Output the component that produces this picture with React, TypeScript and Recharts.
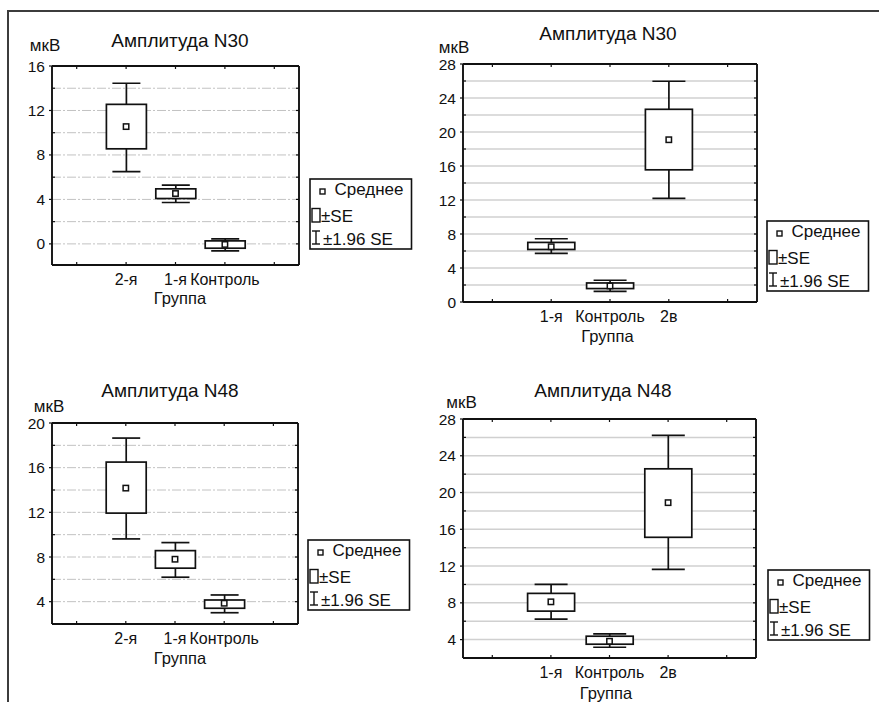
import React from 'react';
import { ComposedChart, Bar, Scatter, XAxis, YAxis, CartesianGrid } from 'recharts';

const FONT = '"Liberation Sans", Arial, Helvetica, sans-serif';
const INK = '#111111';

// ---------------- data ----------------
const yUnit = 'мкВ';
const xTitle = 'Группа';
const legendMean = 'Среднее';
const legendSE = '±SE';
const legendCI = '±1.96 SE';

// Panel 1: Амплитуда N30 (top-left)
const p1Title = 'Амплитуда N30';
const p1Categories = ['', '2-я', '1-я', 'Контроль', ''];
const p1Mean = [null, 10.55, 4.53, -0.05, null];
const p1SeLow = [null, 8.55, 4.08, -0.39, null];
const p1SeHigh = [null, 12.55, 4.95, 0.27, null];
const p1CiLow = [null, 6.5, 3.72, -0.63, null];
const p1CiHigh = [null, 14.45, 5.28, 0.45, null];
const p1Domain: [number, number] = [-1.9, 16];
const p1Ticks = [0, 2, 4, 6, 8, 10, 12, 14, 16];

// Panel 2: Амплитуда N30 (top-right)
const p2Title = 'Амплитуда N30';
const p2Categories = ['', '1-я', 'Контроль', '2в', ''];
const p2Mean = [null, 6.5, 1.89, 19.09, null];
const p2SeLow = [null, 6.18, 1.58, 15.55, null];
const p2SeHigh = [null, 7.01, 2.24, 22.67, null];
const p2CiLow = [null, 5.71, 1.26, 12.2, null];
const p2CiHigh = [null, 7.44, 2.56, 25.97, null];
const p2Domain: [number, number] = [0, 28];
const p2Ticks = [0, 2, 4, 6, 8, 10, 12, 14, 16, 18, 20, 22, 24, 26, 28];

// Panel 3: Амплитуда N48 (bottom-left)
const p3Title = 'Амплитуда N48';
const p3Categories = ['', '2-я', '1-я', 'Контроль', ''];
const p3Mean = [null, 14.17, 7.8, 3.86, null];
const p3SeLow = [null, 11.93, 7.0, 3.41, null];
const p3SeHigh = [null, 16.5, 8.57, 4.15, null];
const p3CiLow = [null, 9.62, 6.19, 3.01, null];
const p3CiHigh = [null, 18.65, 9.29, 4.6, null];
const p3Domain: [number, number] = [2, 20];
const p3Ticks = [4, 6, 8, 10, 12, 14, 16, 18, 20];

// Panel 4: Амплитуда N48 (bottom-right)
const p4Title = 'Амплитуда N48';
const p4Categories = ['', '1-я', 'Контроль', '2в', ''];
const p4Mean = [null, 8.11, 3.82, 18.9, null];
const p4SeLow = [null, 7.1, 3.5, 15.13, null];
const p4SeHigh = [null, 9.03, 4.37, 22.58, null];
const p4CiLow = [null, 6.22, 3.17, 11.64, null];
const p4CiHigh = [null, 10.0, 4.62, 26.21, null];
const p4Domain: [number, number] = [2, 28];
const p4Ticks = [4, 6, 8, 10, 12, 14, 16, 18, 20, 22, 24, 26, 28];

// ---------------- helpers ----------------
type Row = {
  slot: number;
  has: boolean;
  mean: number | null;
  base: number;
  lowW: number;
  box: number;
  highW: number;
};

function buildRows(
  cats: string[],
  mean: (number | null)[],
  seLow: (number | null)[],
  seHigh: (number | null)[],
  ciLow: (number | null)[],
  ciHigh: (number | null)[]
): Row[] {
  return cats.map((_, i) => {
    const has = mean[i] != null;
    return {
      slot: i,
      has,
      mean: has ? (mean[i] as number) : null,
      base: has ? (ciLow[i] as number) : 0,
      lowW: has ? (seLow[i] as number) - (ciLow[i] as number) : 0,
      box: has ? (seHigh[i] as number) - (seLow[i] as number) : 0,
      highW: has ? (ciHigh[i] as number) - (seHigh[i] as number) : 0,
    };
  });
}

const LW = 1.7;

const makeLowWhisker = (capW: number) => (p: any) => {
  if (!p || !p.payload || !p.payload.has) return <g />;
  const cx = p.x + p.width / 2;
  const top = p.y;
  const bottom = p.y + p.height;
  return (
    <g>
      <line x1={cx} x2={cx} y1={top} y2={bottom} stroke={INK} strokeWidth={LW} />
      <line x1={cx - capW / 2} x2={cx + capW / 2} y1={bottom} y2={bottom} stroke={INK} strokeWidth={LW} />
    </g>
  );
};

const makeHighWhisker = (capW: number) => (p: any) => {
  if (!p || !p.payload || !p.payload.has) return <g />;
  const cx = p.x + p.width / 2;
  const top = p.y;
  const bottom = p.y + p.height;
  return (
    <g>
      <line x1={cx} x2={cx} y1={top} y2={bottom} stroke={INK} strokeWidth={LW} />
      <line x1={cx - capW / 2} x2={cx + capW / 2} y1={top} y2={top} stroke={INK} strokeWidth={LW} />
    </g>
  );
};

const BoxShape = (p: any) => {
  if (!p || !p.payload || !p.payload.has) return <g />;
  return <rect x={p.x} y={p.y} width={p.width} height={p.height} fill="#ffffff" stroke={INK} strokeWidth={LW} />;
};

const NoShape = () => <g />;

const MeanShape = (p: any) => {
  if (!p || !p.payload || !p.payload.has || !Number.isFinite(p.cx) || !Number.isFinite(p.cy)) return <g />;
  return <rect x={p.cx - 2.7} y={p.cy - 2.7} width={5.4} height={5.4} fill="#ffffff" stroke={INK} strokeWidth={1.5} />;
};

const LeftTick = (p: any) => {
  const { x, y, payload } = p;
  const v = payload.value;
  const major = v % 4 === 0;
  return (
    <g>
      {major ? (
        <line x1={x - 3} x2={x} y1={y} y2={y} stroke={INK} strokeWidth={1.2} />
      ) : (
        <line x1={x} x2={x + 3} y1={y} y2={y} stroke={INK} strokeWidth={1.2} />
      )}
      {major && (
        <text x={x - 7} y={y + 5.5} textAnchor="end" fontSize={15.5} fontFamily={FONT} fill={INK}>
          {v}
        </text>
      )}
    </g>
  );
};

const RightTick = (p: any) => {
  const { x, y } = p;
  return <line x1={x - 3} x2={x} y1={y} y2={y} stroke={INK} strokeWidth={1.2} />;
};

const TopTick = (p: any) => {
  const { x, y } = p;
  return <line x1={x} x2={x} y1={y} y2={y + 3} stroke={INK} strokeWidth={1.2} />;
};

const makeBottomTick = (cats: string[]) => (p: any) => {
  const { x, y, payload } = p;
  const label = cats[payload.value] ?? '';
  return (
    <g>
      <line x1={x} x2={x} y1={y} y2={y - 3} stroke={INK} strokeWidth={1.2} />
      {label && (
        <text x={x} y={y + 20} textAnchor="middle" fontSize={16} fontFamily={FONT} fill={INK}>
          {label}
        </text>
      )}
    </g>
  );
};

const CText = ({ x, y, size, children }: { x: number; y: number; size: number; children: React.ReactNode }) => (
  <div
    style={{
      position: 'absolute',
      left: x,
      top: y,
      transform: 'translate(-50%, -50%)',
      fontSize: size,
      lineHeight: 1,
      whiteSpace: 'nowrap',
      color: INK,
      fontFamily: FONT,
    }}
  >
    {children}
  </div>
);

const LegendBox = ({ x, y }: { x: number; y: number }) => (
  <svg style={{ position: 'absolute', left: x, top: y }} width={104} height={73}>
    <rect x={1} y={1} width={101.5} height={70} fill="#ffffff" stroke={INK} strokeWidth={1.6} />
    <rect x={11} y={11} width={5} height={5} fill="#ffffff" stroke={INK} strokeWidth={1.4} />
    <text x={25.5} y={17} fontSize={17} fontFamily={FONT} fill={INK}>
      {legendMean}
    </text>
    <rect x={3} y={30.5} width={8} height={13.5} fill="none" stroke={INK} strokeWidth={1.4} />
    <text x={12} y={44} fontSize={17} fontFamily={FONT} fill={INK}>
      {legendSE}
    </text>
    <line x1={7} x2={7} y1={53} y2={66} stroke={INK} strokeWidth={1.4} />
    <line x1={3} x2={11} y1={53} y2={53} stroke={INK} strokeWidth={1.4} />
    <line x1={3} x2={11} y1={66} y2={66} stroke={INK} strokeWidth={1.4} />
    <text x={14} y={66.5} fontSize={17} fontFamily={FONT} fill={INK}>
      {legendCI}
    </text>
  </svg>
);

type PanelCfg = {
  rows: Row[];
  cats: string[];
  domain: [number, number];
  ticks: number[];
  title: string;
  dashed: boolean;
  barSize: number;
  capW: number;
  chart: { left: number; top: number; width: number; height: number };
  margin: { top: number; right: number; bottom: number; left: number };
  titlePos: [number, number];
  unitPos: [number, number];
  groupPos: [number, number];
  legendPos: [number, number];
};

const Panel = ({ cfg }: { cfg: PanelCfg }) => {
  const gridProps = cfg.dashed
    ? { stroke: '#c2c2c2', strokeDasharray: '9 2 2 2', strokeWidth: 1 }
    : { stroke: '#d0d0d0', strokeWidth: 1.5 };
  return (
    <>
      <div style={{ position: 'absolute', left: cfg.chart.left, top: cfg.chart.top }}>
        <ComposedChart
          width={cfg.chart.width}
          height={cfg.chart.height}
          data={cfg.rows}
          margin={cfg.margin}
          stackOffset="none"
        >
          <CartesianGrid vertical={false} horizontal={true} {...gridProps} />
          <XAxis
            dataKey="slot"
            type="category"
            interval={0}
            height={30}
            tickSize={0}
            tickMargin={0}
            axisLine={{ stroke: INK, strokeWidth: 1.9 }}
            tickLine={false}
            tick={makeBottomTick(cfg.cats)}
          />
          <XAxis
            xAxisId="top"
            dataKey="slot"
            type="category"
            orientation="top"
            interval={0}
            height={1}
            tickSize={0}
            tickMargin={0}
            axisLine={{ stroke: INK, strokeWidth: 1.9 }}
            tickLine={false}
            tick={TopTick}
          />
          <YAxis
            type="number"
            domain={cfg.domain}
            allowDataOverflow
            ticks={cfg.ticks}
            interval={0}
            width={40}
            tickSize={0}
            tickMargin={0}
            axisLine={{ stroke: INK, strokeWidth: 1.9 }}
            tickLine={false}
            tick={LeftTick}
          />
          <YAxis
            yAxisId="right"
            orientation="right"
            type="number"
            domain={cfg.domain}
            allowDataOverflow
            ticks={cfg.ticks}
            interval={0}
            width={1}
            tickSize={0}
            tickMargin={0}
            axisLine={{ stroke: INK, strokeWidth: 1.9 }}
            tickLine={false}
            tick={RightTick}
          />
          <Bar dataKey="base" stackId="s" barSize={cfg.barSize} shape={NoShape} isAnimationActive={false} />
          <Bar dataKey="lowW" stackId="s" barSize={cfg.barSize} shape={makeLowWhisker(cfg.capW)} isAnimationActive={false} />
          <Bar dataKey="box" stackId="s" barSize={cfg.barSize} shape={BoxShape} isAnimationActive={false} />
          <Bar dataKey="highW" stackId="s" barSize={cfg.barSize} shape={makeHighWhisker(cfg.capW)} isAnimationActive={false} />
          <Scatter dataKey="mean" shape={MeanShape} isAnimationActive={false} />
        </ComposedChart>
      </div>
      <CText x={cfg.titlePos[0]} y={cfg.titlePos[1]} size={19}>
        {cfg.title}
      </CText>
      <CText x={cfg.unitPos[0]} y={cfg.unitPos[1]} size={17}>
        {yUnit}
      </CText>
      <CText x={cfg.groupPos[0]} y={cfg.groupPos[1]} size={16.5}>
        {xTitle}
      </CText>
      <LegendBox x={cfg.legendPos[0]} y={cfg.legendPos[1]} />
    </>
  );
};

const panels: PanelCfg[] = [
  {
    rows: buildRows(p1Categories, p1Mean, p1SeLow, p1SeHigh, p1CiLow, p1CiHigh),
    cats: p1Categories,
    domain: p1Domain,
    ticks: p1Ticks,
    title: p1Title,
    dashed: true,
    barSize: 40,
    capW: 28,
    chart: { left: 0, top: 0, width: 430, height: 340 },
    margin: { left: 12, top: 65, right: 130, bottom: 45 },
    titlePos: [180, 40],
    unitPos: [45, 45],
    groupPos: [180, 298],
    legendPos: [308.5, 178],
  },
  {
    rows: buildRows(p2Categories, p2Mean, p2SeLow, p2SeHigh, p2CiLow, p2CiHigh),
    cats: p2Categories,
    domain: p2Domain,
    ticks: p2Ticks,
    title: p2Title,
    dashed: false,
    barSize: 47,
    capW: 33,
    chart: { left: 420, top: 0, width: 459, height: 345 },
    margin: { left: 3, top: 63, right: 121, bottom: 13 },
    titlePos: [608, 33],
    unitPos: [454, 46.5],
    groupPos: [607.5, 336],
    legendPos: [765.5, 220],
  },
  {
    rows: buildRows(p3Categories, p3Mean, p3SeLow, p3SeHigh, p3CiLow, p3CiHigh),
    cats: p3Categories,
    domain: p3Domain,
    ticks: p3Ticks,
    title: p3Title,
    dashed: true,
    barSize: 40,
    capW: 28,
    chart: { left: 0, top: 340, width: 430, height: 362 },
    margin: { left: 12, top: 82, right: 131, bottom: 48 },
    titlePos: [170, 390],
    unitPos: [49, 406],
    groupPos: [180, 658],
    legendPos: [306.5, 538.5],
  },
  {
    rows: buildRows(p4Categories, p4Mean, p4SeLow, p4SeHigh, p4CiLow, p4CiHigh),
    cats: p4Categories,
    domain: p4Domain,
    ticks: p4Ticks,
    title: p4Title,
    dashed: false,
    barSize: 47,
    capW: 33,
    chart: { left: 420, top: 345, width: 459, height: 357 },
    margin: { left: 3, top: 73, right: 122, bottom: 14 },
    titlePos: [603, 390],
    unitPos: [461.5, 402],
    groupPos: [606, 693],
    legendPos: [766.5, 569],
  },
];

export default function App() {
  return (
    <div
      style={{
        position: 'absolute',
        left: 0,
        top: 0,
        width: 879,
        height: 702,
        background: '#ffffff',
        overflow: 'hidden',
        fontFamily: FONT,
      }}
    >
      <div
        style={{
          position: 'absolute',
          left: 7,
          top: 10,
          right: 0,
          bottom: 0,
          borderTop: '2px solid #3c3c3c',
          borderLeft: '2px solid #3c3c3c',
        }}
      />
      {panels.map((cfg, i) => (
        <Panel key={i} cfg={cfg} />
      ))}
    </div>
  );
}
